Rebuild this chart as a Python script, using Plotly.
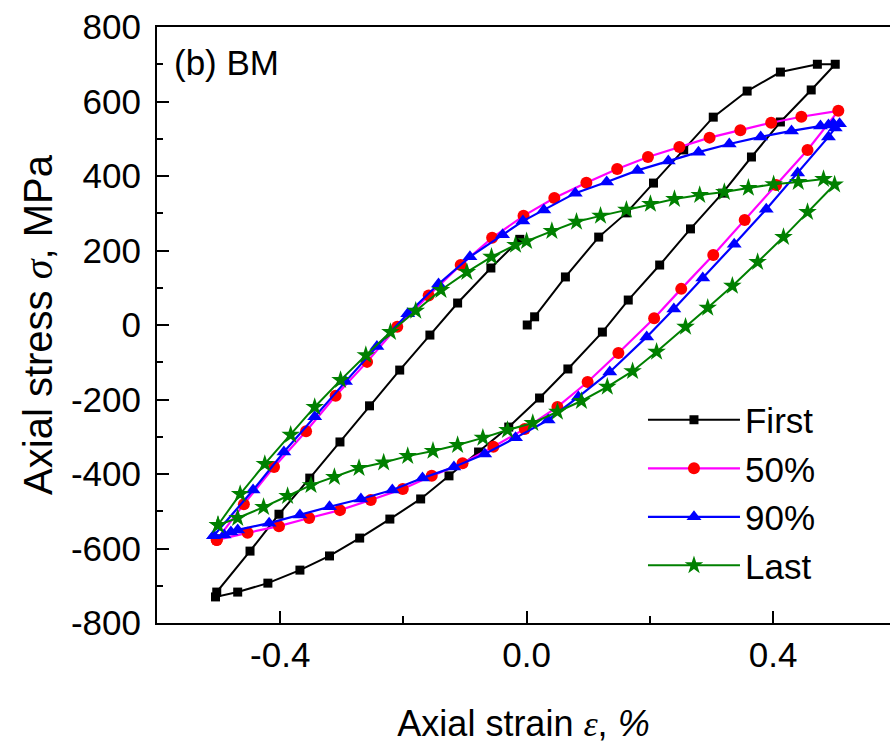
import plotly.graph_objects as go

# ---------------- data (strain %, stress MPa) ----------------
first_x = [0.001, 0.013, 0.063, 0.117, 0.162, 0.206, 0.255, 0.303, 0.358, 0.412, 0.472, 0.501,
           0.462, 0.412, 0.365, 0.318, 0.266, 0.216, 0.165, 0.123, 0.067, 0.021, -0.029, -0.078,
           -0.126, -0.172, -0.222, -0.271, -0.320, -0.368, -0.420, -0.469, -0.505,
           -0.503, -0.449, -0.402, -0.352, -0.303, -0.255, -0.206, -0.157, -0.112, -0.058, -0.011]
first_y = [0, 22, 129, 236, 301, 381, 470, 558, 628, 679, 700, 700,
           631, 545, 451, 354, 258, 161, 67, -19, -118, -196, -274, -341,
           -405, -467, -521, -572, -620, -658, -693, -717, -730,
           -717, -607, -508, -411, -314, -217, -121, -27, 59, 153, 230]

p50_x = [-0.503, -0.459, -0.410, -0.358, -0.310, -0.259, -0.210, -0.159, -0.107, -0.056, -0.005,
         0.045, 0.097, 0.147, 0.197, 0.248, 0.297, 0.347, 0.397, 0.446, 0.506,
         0.456, 0.405, 0.354, 0.303, 0.251, 0.207, 0.149, 0.099, 0.050, -0.003, -0.054,
         -0.104, -0.154, -0.201, -0.253, -0.303, -0.353, -0.402, -0.453, -0.503]
p50_y = [-577, -481, -381, -285, -190, -99, -5, 79, 161, 234, 293,
         341, 382, 419, 451, 478, 503, 523, 543, 559, 575,
         470, 376, 282, 188, 97, 18, -75, -153, -220, -279, -327,
         -371, -405, -440, -470, -497, -518, -540, -558, -577]

p90_x = [-0.508, -0.444, -0.394, -0.344, -0.294, -0.243, -0.193, -0.143, -0.092, -0.039, -0.006,
         0.028, 0.079, 0.130, 0.180, 0.230, 0.279, 0.329, 0.380, 0.430, 0.477, 0.490, 0.498, 0.508,
         0.501, 0.490, 0.440, 0.389, 0.337, 0.286, 0.239, 0.195, 0.135, 0.084, 0.035, -0.018,
         -0.068, -0.118, -0.169, -0.218, -0.269, -0.320, -0.368, -0.418, -0.469, -0.480, -0.491, -0.508]
p90_y = [-566, -443, -341, -246, -152, -58, 30, 110, 183, 242, 279,
         309, 354, 384, 415, 440, 464, 486, 505, 521, 534, 537, 540, 540,
         529, 505, 408, 311, 217, 126, 43, -32, -126, -193, -255, -303,
         -346, -381, -411, -443, -467, -488, -510, -532, -550, -556, -564, -566]

last_x = [-0.501, -0.465, -0.425, -0.383, -0.344, -0.302, -0.261, -0.221, -0.180, -0.139, -0.097,
          -0.057, -0.018, 0.000, 0.041, 0.081, 0.120, 0.162, 0.201, 0.240, 0.281, 0.321, 0.360,
          0.401, 0.441, 0.482, 0.500, 0.456, 0.417, 0.375, 0.334, 0.294, 0.258, 0.211, 0.172,
          0.131, 0.089, 0.050, 0.010, -0.031, -0.071, -0.112, -0.152, -0.193, -0.232, -0.272,
          -0.312, -0.350, -0.388, -0.427, -0.469, -0.501]
last_y = [-537, -454, -373, -295, -220, -148, -81, -19, 38, 94, 142,
          183, 215, 225, 252, 277, 293, 309, 325, 338, 349, 357, 368,
          378, 384, 392, 377, 303, 236, 169, 105, 46, -5, -72, -124,
          -166, -204, -233, -263, -282, -303, -322, -338, -352, -369, -384,
          -408, -430, -459, -489, -518, -537]

series_names = ["First", "50%", "90%", "Last"]

x_tickvals = [-0.4, 0.0, 0.4]
x_ticktext = ["-0.4", "0.0", "0.4"]
y_tickvals = [-800, -600, -400, -200, 0, 200, 400, 600, 800]
y_ticktext = ["-800", "-600", "-400", "-200", "0", "200", "400", "600", "800"]

FONT = "Liberation Sans, Arial, sans-serif"
SERIF = "'Liberation Serif', 'Times New Roman', serif"

fig = go.Figure()
fig.add_trace(go.Scatter(x=first_x, y=first_y, name=series_names[0], mode="lines+markers",
                         line=dict(color="#000000", width=2),
                         marker=dict(symbol="square", size=9, color="#000000")))
fig.add_trace(go.Scatter(x=p50_x, y=p50_y, name=series_names[1], mode="lines+markers",
                         line=dict(color="#FF00FF", width=2.2),
                         marker=dict(symbol="circle", size=12, color="#FF0000")))
fig.add_trace(go.Scatter(x=p90_x, y=p90_y, name=series_names[2], mode="lines+markers",
                         line=dict(color="#0000FF", width=2.2),
                         marker=dict(symbol="triangle-up", size=13, color="#0000FF")))
fig.add_trace(go.Scatter(x=last_x, y=last_y, name=series_names[3], mode="lines+markers",
                         line=dict(color="#008000", width=2),
                         marker=dict(symbol="star", size=14, color="#008000")))

axis_common = dict(showgrid=False, zeroline=False, showline=True, linecolor="black",
                   linewidth=2, ticks="inside", tickcolor="black", tickwidth=2, ticklen=12,
                   automargin=False,
                   tickfont=dict(family=FONT, size=35, color="black"))

fig.update_xaxes(range=[-0.6, 0.5899], tickmode="array", tickvals=x_tickvals, ticktext=x_ticktext,
                 mirror=True,
                 minor=dict(ticks="inside", dtick=0.2, tick0=0, ticklen=7, tickcolor="black", tickwidth=2),
                 title=dict(text="Axial strain <span style=\"font-family:" + SERIF + "\"><i>ε</i></span>, <i>%</i>",
                            font=dict(family=FONT, size=36, color="black"), standoff=38),
                 **axis_common)
fig.update_yaxes(range=[-800, 800], tickmode="array", tickvals=y_tickvals, ticktext=y_ticktext,
                 mirror=False, ticklabelstandoff=7,
                 minor=dict(ticks="inside", dtick=100, tick0=0, ticklen=6, tickcolor="black", tickwidth=2),
                 title=dict(text="Axial stress <span style=\"font-family:" + SERIF + "\"><i>σ</i></span>, MPa",
                            font=dict(family=FONT, size=40, color="black"), standoff=6),
                 **axis_common)

fig.add_annotation(text="(b) BM", xref="paper", yref="paper", x=0.021, y=0.94,
                   xanchor="left", yanchor="middle", showarrow=False,
                   font=dict(family=FONT, size=35, color="black"))

fig.update_layout(
    width=890, height=745,
    margin=dict(l=157, r=0, t=27, b=122),
    paper_bgcolor="white", plot_bgcolor="white",
    showlegend=True,
    legend=dict(x=0.663, y=0.39, xanchor="left", yanchor="top",
                bgcolor="rgba(0,0,0,0)", itemwidth=92,
                font=dict(family=FONT, size=35, color="black")),
)

fig.write_html("out.html", config={"displayModeBar": False},
               post_script="document.body.style.margin='0px';")
